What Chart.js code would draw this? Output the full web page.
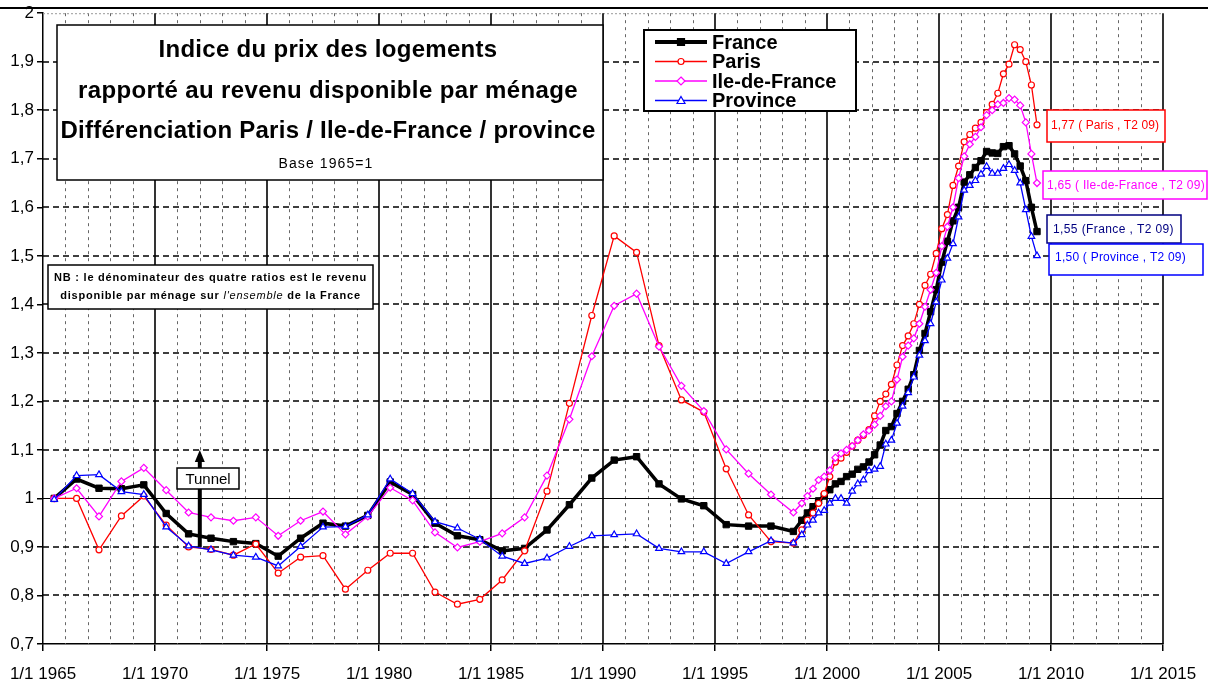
<!DOCTYPE html>
<html lang="fr">
<head>
<meta charset="utf-8">
<title>Indice du prix des logements rapporté au revenu disponible par ménage</title>
<script src="https://cdn.jsdelivr.net/npm/chart.js@4.4.1/dist/chart.umd.min.js"></script>
<style>
  html, body { margin: 0; padding: 0; background: #fff; }
  canvas { display: block; }
</style>
</head>
<body>
<canvas id="graphique" width="1208" height="684"></canvas>
<script>
//-------------------------------- Donnees --------------------------------------------------//
// Dates en annees decimales : annuel (milieu d'annee) jusqu'en 1998, puis trimestriel.
const dates = [
  1965.5, 1966.5, 1967.5, 1968.5, 1969.5, 1970.5, 1971.5, 1972.5, 1973.5, 1974.5,
  1975.5, 1976.5, 1977.5, 1978.5, 1979.5, 1980.5, 1981.5, 1982.5, 1983.5, 1984.5,
  1985.5, 1986.5, 1987.5, 1988.5, 1989.5, 1990.5, 1991.5, 1992.5, 1993.5, 1994.5,
  1995.5, 1996.5, 1997.5, 1998.5,
  1998.875, 1999.125, 1999.375, 1999.625, 1999.875, 2000.125, 2000.375, 2000.625, 2000.875,
  2001.125, 2001.375, 2001.625, 2001.875, 2002.125, 2002.375, 2002.625, 2002.875,
  2003.125, 2003.375, 2003.625, 2003.875, 2004.125, 2004.375, 2004.625, 2004.875,
  2005.125, 2005.375, 2005.625, 2005.875, 2006.125, 2006.375, 2006.625, 2006.875,
  2007.125, 2007.375, 2007.625, 2007.875, 2008.125, 2008.375, 2008.625, 2008.875,
  2009.125, 2009.375
];

const france = [
  1.00, 1.04, 1.021, 1.02, 1.028, 0.969, 0.927, 0.918, 0.911, 0.907,
  0.881, 0.918, 0.949, 0.943, 0.965, 1.034, 1.008, 0.949, 0.923, 0.915,
  0.892, 0.897, 0.935, 0.987, 1.042, 1.079, 1.086, 1.03, 0.999, 0.985,
  0.946, 0.943, 0.943, 0.932,
  0.955, 0.97, 0.983, 0.995, 1.005, 1.018, 1.03, 1.035, 1.045,
  1.05, 1.06, 1.065, 1.075, 1.09, 1.11, 1.14, 1.148,
  1.175, 1.20, 1.225, 1.255, 1.305, 1.34, 1.385, 1.43,
  1.487, 1.53, 1.572, 1.60, 1.652, 1.667, 1.682, 1.696,
  1.715, 1.712, 1.711, 1.725, 1.727, 1.71, 1.685, 1.655,
  1.60, 1.55
];

const paris = [
  1.00, 1.00, 0.894, 0.964, 1.005, 0.945, 0.90, 0.895, 0.883, 0.906,
  0.846, 0.879, 0.882, 0.813, 0.852, 0.887, 0.887, 0.807, 0.782, 0.792,
  0.832, 0.892, 1.015, 1.196, 1.377, 1.541, 1.507, 1.315, 1.203, 1.178,
  1.061, 0.966, 0.911, 0.908,
  0.935, 0.955, 0.97, 0.99, 1.01, 1.045, 1.075, 1.083, 1.095,
  1.108, 1.12, 1.13, 1.142, 1.17, 1.20, 1.215, 1.235,
  1.275, 1.315, 1.335, 1.36, 1.40, 1.439, 1.462, 1.505,
  1.556, 1.585, 1.645, 1.685, 1.735, 1.75, 1.763, 1.775,
  1.795, 1.812, 1.835, 1.875, 1.895, 1.935, 1.925, 1.90,
  1.852, 1.77
];

const ileDeFrance = [
  1.00, 1.021, 0.963, 1.035, 1.063, 1.017, 0.971, 0.961, 0.954, 0.961,
  0.923, 0.954, 0.973, 0.926, 0.963, 1.022, 0.996, 0.93, 0.899, 0.911,
  0.928, 0.961, 1.047, 1.163, 1.293, 1.397, 1.422, 1.313, 1.232, 1.18,
  1.101, 1.051, 1.008, 0.971,
  0.99, 1.005, 1.02, 1.038, 1.045, 1.058, 1.084, 1.093, 1.10,
  1.108, 1.12, 1.132, 1.14, 1.152, 1.17, 1.19, 1.20,
  1.245, 1.292, 1.315, 1.33, 1.36, 1.395, 1.43, 1.465,
  1.52, 1.56, 1.60, 1.66, 1.705, 1.73, 1.745, 1.765,
  1.79, 1.80, 1.812, 1.815, 1.825, 1.822, 1.81, 1.775,
  1.71, 1.65
];

const province = [
  0.998, 1.047, 1.049, 1.014, 1.008, 0.941, 0.902, 0.894, 0.883, 0.879,
  0.861, 0.901, 0.941, 0.942, 0.966, 1.04, 1.01, 0.952, 0.939, 0.916,
  0.881, 0.866, 0.877, 0.901, 0.923, 0.925, 0.927, 0.897, 0.89, 0.89,
  0.866, 0.89, 0.913, 0.908,
  0.925, 0.945, 0.955, 0.97, 0.975, 0.99, 1.0, 1.0, 0.99,
  1.015, 1.03, 1.038, 1.057, 1.06, 1.066, 1.112, 1.12,
  1.155, 1.19, 1.218, 1.25, 1.295, 1.325, 1.36, 1.405,
  1.45, 1.495, 1.525, 1.58, 1.635, 1.645, 1.655, 1.668,
  1.684, 1.67, 1.67, 1.68, 1.688, 1.676, 1.65, 1.595,
  1.54, 1.50
];

const titres = [
  "Indice du prix des logements",
  "rapporté au revenu disponible par ménage",
  "Différenciation Paris / Ile-de-France / province"
];
const sousTitre = "Base 1965=1";
const noms = ["France", "Paris", "Ile-de-France", "Province"];
const dernierTrimestre = "T2 09";
const anneeTunnel = 1972;

//-------------------------------- Outils de dessin -----------------------------------------//
const POLICE = "'Liberation Sans', Arial, sans-serif";
Chart.defaults.font.family = POLICE;
Chart.defaults.color = "#000";

const virgule = (v, n) => v.toFixed(n).replace(".", ",");

// ecrit un texte ; si largeur est donnee, l'espacement des lettres est ajuste pour la tenir
function ecrire(ctx, texte, x, y, police, couleur, largeur, centre) {
  ctx.save();
  ctx.font = police;
  ctx.fillStyle = couleur;
  ctx.textAlign = "left";
  ctx.textBaseline = "alphabetic";
  let w = ctx.measureText(texte).width;
  if (largeur) {
    ctx.letterSpacing = (largeur - w) / texte.length + "px";
    w = largeur;
  }
  ctx.fillText(texte, centre ? x - w / 2 : x, y);
  ctx.restore();
}

function cadre(ctx, g, h, d, b, couleur, epaisseur) {
  ctx.save();
  ctx.fillStyle = "#fff";
  ctx.fillRect(g, h, d - g, b - h);
  ctx.strokeStyle = couleur;
  ctx.lineWidth = epaisseur;
  ctx.strokeRect(g, h, d - g, b - h);
  ctx.restore();
}

function trait(ctx, x1, y1, x2, y2) {
  ctx.beginPath();
  ctx.moveTo(x1, y1);
  ctx.lineTo(x2, y2);
  ctx.stroke();
}

// petit symbole pour la legende
function symbole(ctx, forme, x, y, couleur) {
  ctx.save();
  ctx.strokeStyle = couleur;
  ctx.lineWidth = 1.2;
  ctx.fillStyle = forme === "carre" ? couleur : "#fff";
  ctx.beginPath();
  if (forme === "carre") ctx.rect(x - 3.5, y - 3.5, 7, 7);
  if (forme === "rond") ctx.arc(x, y, 3, 0, Math.PI * 2);
  if (forme === "losange") { ctx.moveTo(x, y - 4); ctx.lineTo(x + 4, y); ctx.lineTo(x, y + 4); ctx.lineTo(x - 4, y); ctx.closePath(); }
  if (forme === "triangle") { ctx.moveTo(x, y - 4); ctx.lineTo(x + 4, y + 3); ctx.lineTo(x - 4, y + 3); ctx.closePath(); }
  ctx.fill();
  ctx.stroke();
  ctx.restore();
}

//-------------------------------- Plugin : grille, cadres, annotations ---------------------//
const decor = {
  id: "decor",
  beforeDatasetsDraw(chart) {
    const { ctx, chartArea: zone, scales } = chart;
    const x = scales.x, y = scales.y;
    ctx.save();
    // une ligne pointillee par annee
    ctx.strokeStyle = "#666";
    ctx.lineWidth = 1;
    ctx.setLineDash([3, 4]);
    for (let an = 1966; an < 2015; an++) {
      if (an % 5 === 0) continue;
      const px = Math.round(x.getPixelForValue(an)) + 0.5;
      trait(ctx, px, zone.top, px, zone.bottom);
    }
    // lignes horizontales tiretees tous les 0,1
    ctx.strokeStyle = "#000";
    ctx.lineWidth = 1.6;
    ctx.setLineDash([6, 4]);
    for (let k = 8; k <= 19; k++) {
      if (k === 10) continue;
      const py = Math.round(y.getPixelForValue(k / 10));
      trait(ctx, zone.left, py, zone.right, py);
    }
    // bord haut gris
    ctx.strokeStyle = "#999";
    ctx.lineWidth = 1;
    ctx.setLineDash([2, 2]);
    trait(ctx, zone.left, zone.top + 0.5, zone.right, zone.top + 0.5);
    // base 1 en trait plein
    ctx.setLineDash([]);
    ctx.strokeStyle = "#000";
    ctx.lineWidth = 1.2;
    const p1 = Math.round(y.getPixelForValue(1)) + 0.5;
    trait(ctx, zone.left, p1, zone.right, p1);
    // traits pleins tous les 5 ans
    ctx.lineWidth = 1.6;
    for (let an = 1970; an <= 2015; an += 5) {
      const px = Math.round(x.getPixelForValue(an));
      trait(ctx, px, zone.top, px, zone.bottom);
    }
    ctx.restore();
  },
  afterDatasetsDraw(chart) {
    const { ctx, scales } = chart;
    const x = scales.x, y = scales.y;

    // fleche du tunnel
    const xt = x.getPixelForValue(anneeTunnel);
    const yBas = y.getPixelForValue(0.9);
    const yHaut = y.getPixelForValue(1.1);
    ctx.save();
    ctx.strokeStyle = "#000";
    ctx.fillStyle = "#000";
    ctx.lineWidth = 4;
    trait(ctx, xt, yBas, xt, yHaut + 10);
    ctx.beginPath();
    ctx.moveTo(xt, yHaut);
    ctx.lineTo(xt + 5, yHaut + 12);
    ctx.lineTo(xt - 5, yHaut + 12);
    ctx.closePath();
    ctx.fill();
    ctx.restore();
    cadre(ctx, 177, 468, 239, 489, "#000", 1.5);
    ecrire(ctx, "Tunnel", 208, 484, "15px " + POLICE, "#000", 45, true);

    // cartouche du titre
    cadre(ctx, 57, 25, 603, 180, "#000", 1.5);
    ecrire(ctx, titres[0], 328, 57, "bold 24px " + POLICE, "#000", 339, true);
    ecrire(ctx, titres[1], 328, 98, "bold 24px " + POLICE, "#000", 500, true);
    ecrire(ctx, titres[2], 328, 138, "bold 24px " + POLICE, "#000", 535, true);
    ecrire(ctx, sousTitre, 326, 168, "14px " + POLICE, "#000", 95, true);

    // legende
    cadre(ctx, 644, 30, 856, 111, "#000", 2);
    const couleurs = ["#000", "#ff0000", "#ff00ff", "#0000ff"];
    const formes = ["carre", "rond", "losange", "triangle"];
    noms.forEach((nom, i) => {
      const ly = 42 + i * 19.5;
      ctx.save();
      ctx.strokeStyle = couleurs[i];
      ctx.lineWidth = i === 0 ? 4 : 1.5;
      trait(ctx, 655, ly, 707, ly);
      ctx.restore();
      symbole(ctx, formes[i], 681, ly, couleurs[i]);
      ecrire(ctx, nom, 712, ly + 6.5, "bold 20px " + POLICE, "#000");
    });

    // note sur le denominateur
    cadre(ctx, 48, 265, 373, 309, "#000", 1.5);
    const ligne1 = "NB : le dénominateur des quatre ratios est le revenu";
    ctx.save();
    ctx.font = "bold 11px " + POLICE;
    const espace = (313 - ctx.measureText(ligne1).width) / ligne1.length;
    ctx.restore();
    ecrire(ctx, ligne1, 210.5, 281, "bold 11px " + POLICE, "#000", 313, true);
    const morceaux = [
      ["disponible par ménage sur ", "bold 11px "],
      ["l'ensemble", "italic 11px "],
      [" de la France", "bold 11px "]
    ];
    ctx.save();
    ctx.letterSpacing = espace + "px";
    let total = 0;
    morceaux.forEach((m) => { ctx.font = m[1] + POLICE; total += ctx.measureText(m[0]).width; });
    let cx = 210.5 - total / 2;
    ctx.fillStyle = "#000";
    ctx.textBaseline = "alphabetic";
    morceaux.forEach((m) => {
      ctx.font = m[1] + POLICE;
      ctx.fillText(m[0], cx, 299);
      cx += ctx.measureText(m[0]).width;
    });
    ctx.restore();

    // dernieres valeurs
    const n = dates.length - 1;
    const etiquettes = [
      [virgule(paris[n], 2) + " ( Paris , " + dernierTrimestre + ")", "#ff0000", [1047, 110, 1165, 142], 1051, 129, 108],
      [virgule(ileDeFrance[n], 2) + " ( Ile-de-France , " + dernierTrimestre + ")", "#ff00ff", [1043, 171, 1207, 199], 1047, 189, 158],
      [virgule(france[n], 2) + " (France , " + dernierTrimestre + ")", "#000080", [1047, 215, 1181, 243], 1053, 233, 121],
      [virgule(province[n], 2) + " ( Province , " + dernierTrimestre + ")", "#0000ff", [1049, 244, 1203, 275], 1055, 261, 131]
    ];
    etiquettes.forEach(([texte, couleur, b, tx, ty, larg]) => {
      cadre(ctx, b[0], b[1], b[2], b[3], couleur, 1.5);
      ecrire(ctx, texte, tx, ty, "12px " + POLICE, couleur, larg);
    });
  },
  afterDraw(chart) {
    // filet noir en haut du graphique
    const ctx = chart.ctx;
    ctx.save();
    ctx.fillStyle = "#000";
    ctx.fillRect(0, 7, chart.width, 2);
    ctx.restore();
  }
};

//-------------------------------- Series ---------------------------------------------------//
function serie(valeurs) {
  return dates.map((d, i) => ({ x: d, y: valeurs[i] }));
}

const jeux = [
  {
    label: noms[0], data: serie(france), order: 3,
    borderColor: "#000", backgroundColor: "#000", borderWidth: 3.5,
    pointStyle: "rect", pointRadius: 4.5, pointBorderWidth: 1,
    pointBackgroundColor: "#000", pointBorderColor: "#000"
  },
  {
    label: noms[1], data: serie(paris), order: 2,
    borderColor: "#ff0000", borderWidth: 1.3,
    pointStyle: "circle", pointRadius: 3, pointBorderWidth: 1.2,
    pointBackgroundColor: "#fff", pointBorderColor: "#ff0000"
  },
  {
    label: noms[2], data: serie(ileDeFrance), order: 1,
    borderColor: "#ff00ff", borderWidth: 1.3,
    pointStyle: "rectRot", pointRadius: 3.5, pointBorderWidth: 1.2,
    pointBackgroundColor: "#fff", pointBorderColor: "#ff00ff"
  },
  {
    label: noms[3], data: serie(province), order: 0,
    borderColor: "#0000ff", borderWidth: 1.3,
    pointStyle: "triangle", pointRadius: 3.8, pointBorderWidth: 1.2,
    pointBackgroundColor: "#fff", pointBorderColor: "#0000ff"
  }
];

//-------------------------------- Configuration --------------------------------------------//
const config = {
  type: "line",
  data: { datasets: jeux },
  options: {
    responsive: false,
    animation: false,
    devicePixelRatio: 1,
    layout: { padding: { top: 13, right: 45, left: 0, bottom: 0 } },
    elements: { line: { tension: 0 } },
    plugins: { legend: { display: false }, tooltip: { enabled: false } },
    scales: {
      x: {
        type: "linear",
        min: 1965,
        max: 2015,
        // hauteur fixe, sans marge laterale due aux etiquettes
        afterFit: (s) => { s.height = 40; s.paddingLeft = 0; s.paddingRight = 0; },
        ticks: {
          stepSize: 5,
          autoSkip: false,
          maxRotation: 0,
          padding: 13,
          font: { size: 17 },
          callback: (v) => "1/1 " + v
        },
        grid: { drawOnChartArea: false, drawTicks: true, tickLength: 7, color: "#000", lineWidth: 1.5 },
        border: { display: true, color: "#000", width: 1.5 }
      },
      y: {
        min: 0.7,
        max: 2,
        afterFit: (s) => { s.width = 43; },
        ticks: {
          stepSize: 0.1,
          autoSkip: false,
          padding: 3,
          font: { size: 17 },
          callback: (v) => String(Math.round(v * 10) / 10).replace(".", ",")
        },
        grid: { drawOnChartArea: false, drawTicks: true, tickLength: 6, color: "#000", lineWidth: 1.5 },
        border: { display: true, color: "#000", width: 1.5 }
      }
    }
  },
  plugins: [decor]
};

new Chart(document.getElementById("graphique"), config);
</script>
</body>
</html>
